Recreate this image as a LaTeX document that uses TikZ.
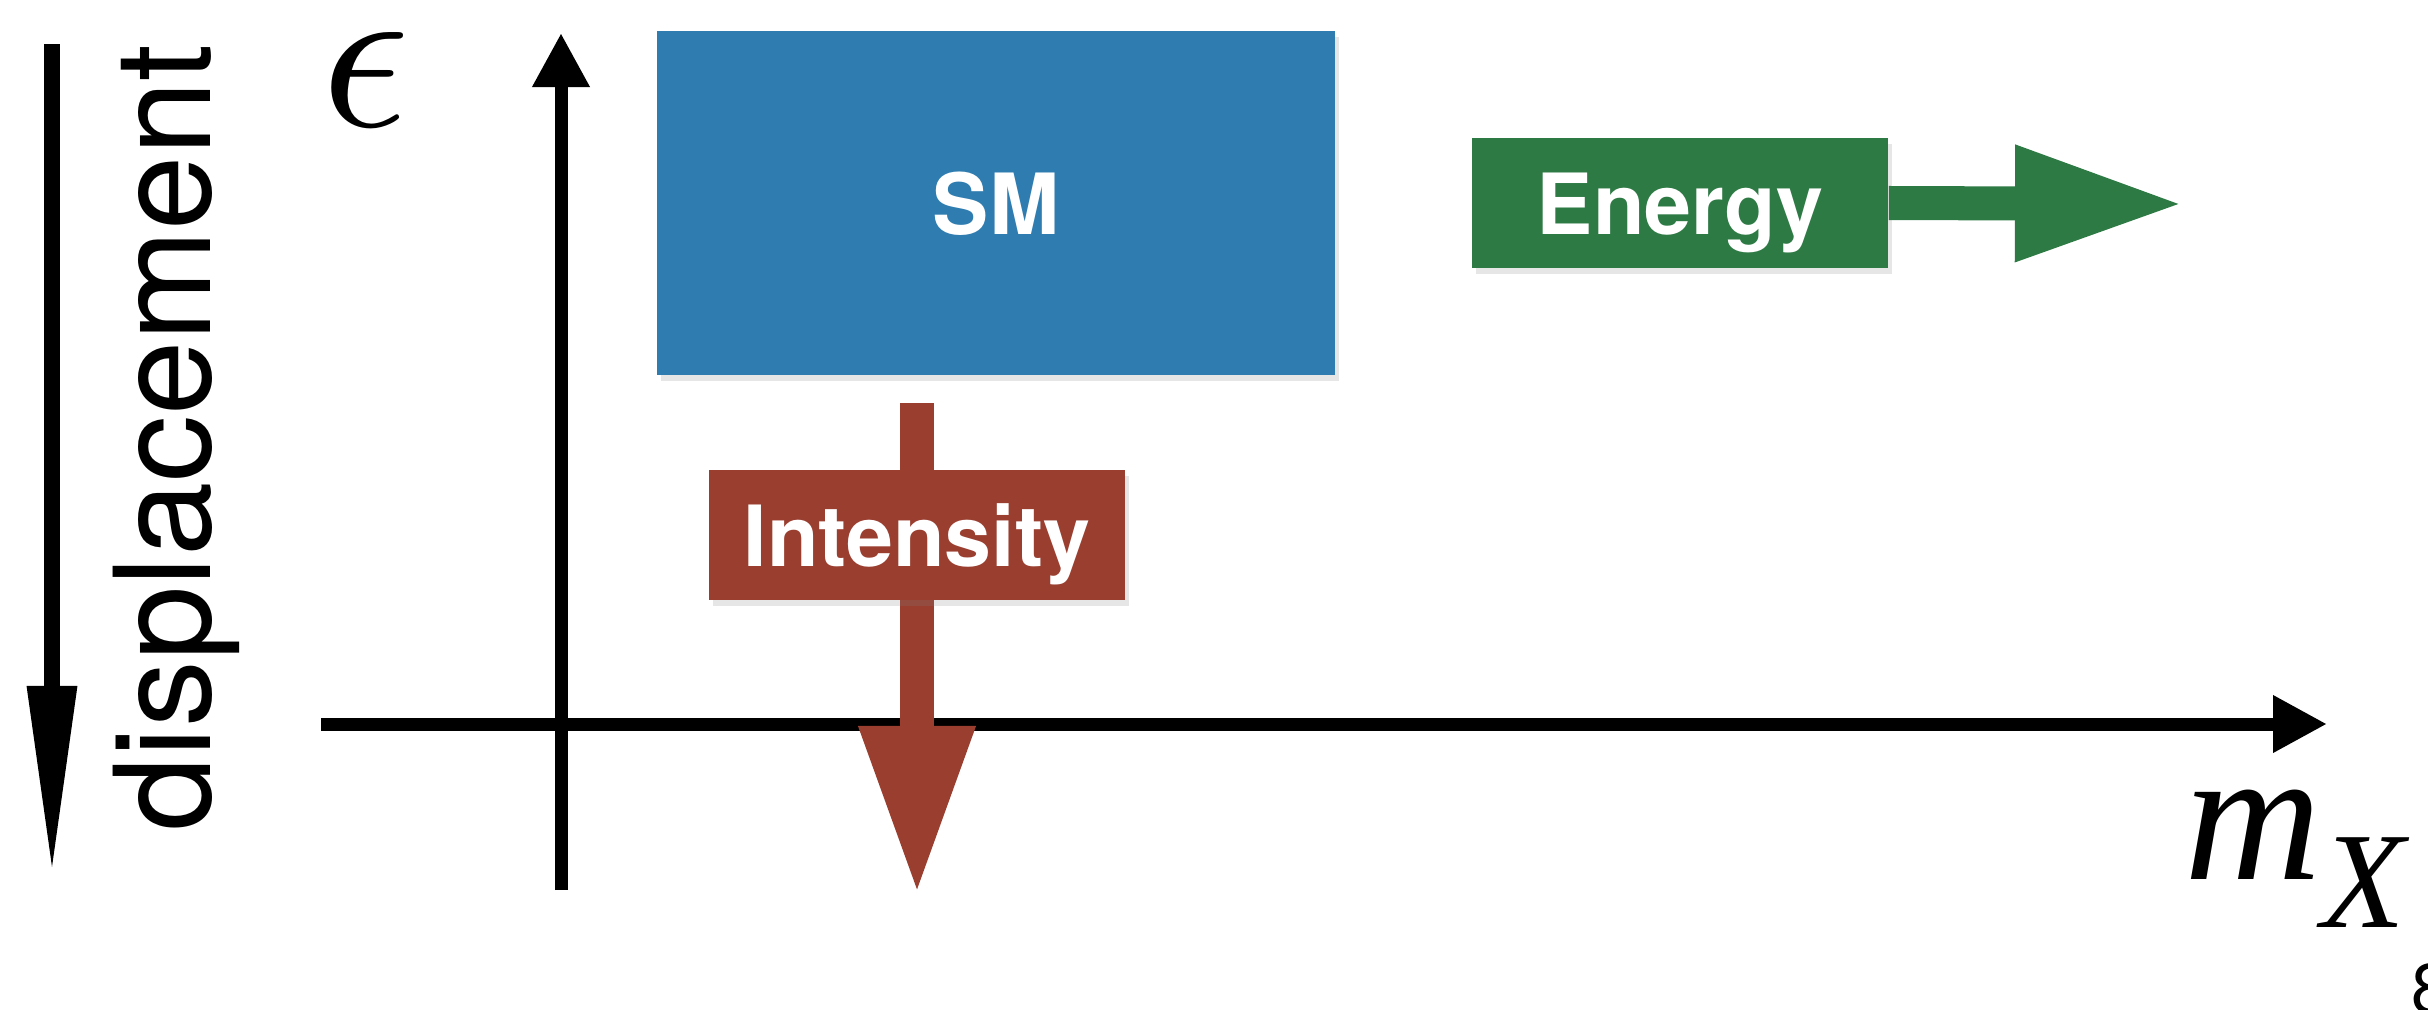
\documentclass[tikz,border=0pt]{standalone}
\usepackage{fontspec}
\usepackage{graphicx}
\setsansfont{TeX Gyre Heros}
\newfontfamily\timesfont{Liberation Serif}
\usetikzlibrary{arrows.meta,shadows}
\definecolor{smblue}{RGB}{47,124,176}
\definecolor{brick}{RGB}{154,62,48}
\definecolor{leaf}{RGB}{46,122,69}
\tikzset{axis/.style={line width=0.13cm, -{Triangle[length=0.54cm,width=0.54cm]}}}
\tikzset{fat arrow/.style={line width=0.34cm, -{Triangle[length=1.7cm,width=1.07cm]}}}
\tikzset{card/.style={inner sep=0pt, text=white, text height=0.62cm, text depth=0pt,
    font=\fontsize{24}{28}\selectfont\sffamily\bfseries,
    drop shadow={opacity=0.2, shadow xshift=0.04cm, shadow yshift=-0.06cm}}}

\begin{document}
\begin{tikzpicture}[x=0.01cm, y=-0.01cm]
\useasboundingbox (0,0) rectangle (2428,1009);

% axes
\coordinate (ybot) at (561,890);
\coordinate (ytop) at (561,33);
\coordinate (xleft) at (321,724);
\coordinate (xright) at (2327,724);
\draw[axis] (ybot) -- (ytop);
\draw[axis] (xleft) -- (xright);

\node[anchor=base, inner sep=0pt] (eps) at (366,126) {\scalebox{6.2}{$\epsilon$}};
\node[anchor=base west, inner sep=0pt, font=\fontsize{54}{54}\selectfont\timesfont\itshape]
  (mx) at (2184,879) {m\raisebox{-0.48cm}{\fontsize{39}{39}\selectfont X}};

% displacement
\coordinate (dtop) at (52,44);
\coordinate (dtip) at (52,876);
\draw[line width=0.16cm, -{Triangle[length=1.9cm,width=0.46cm]}] (dtop) -- (dtip);
\node[rotate=90, anchor=base, font=\fontsize{38}{40}\selectfont\sffamily] (disp) at (210,438) {displacement};

% boxes
\node[card, fill=smblue, minimum width=6.77cm, minimum height=3.44cm] (sm) at (996,203) {SM};

\coordinate (itop) at (917,403);
\coordinate (itip) at (917,896);
\draw[fat arrow, brick] (itop) -- (itip);
\node[card, fill=brick, minimum width=4.15cm, minimum height=1.3cm] (int) at (917,535) {Intensity};

\node[card, fill=leaf, minimum width=4.16cm, minimum height=1.29cm] (en) at (1680,203) {Energy};
\coordinate (etip) at (2185,204);
\draw[fat arrow, leaf] (en.east) -- (etip);

\node[anchor=north west, inner sep=0pt, font=\fontsize{20}{20}\selectfont\sffamily] (pg) at (2411,963) {8};

\end{tikzpicture}
\end{document}
